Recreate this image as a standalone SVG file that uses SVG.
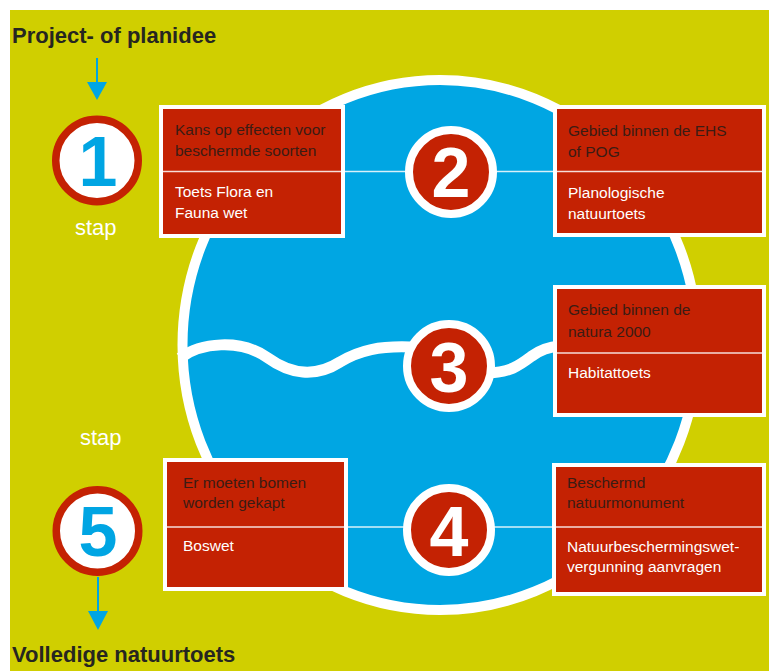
<svg xmlns="http://www.w3.org/2000/svg" width="769" height="671" viewBox="0 0 769 671">
<style>
.title{font-family:"Liberation Sans",Arial,sans-serif;font-weight:bold;font-size:22px;fill:#262620}
.stap{font-family:"Liberation Sans",Arial,sans-serif;font-size:22px;fill:#ffffff}
.box{fill:#c42203;stroke:#ffffff;stroke-width:4}
.dark{font-family:"Liberation Sans",Arial,sans-serif;font-size:15.5px;fill:#3b1c14}
.light{font-family:"Liberation Sans",Arial,sans-serif;font-size:15.5px;fill:#ffffff}
.num{font-family:"Liberation Sans",Arial,sans-serif;font-weight:bold;font-size:70px;text-anchor:middle}
.redc{fill:#c42203;stroke:#ffffff;stroke-width:8}
.whitec{fill:#ffffff;stroke:#c42203;stroke-width:7.5}
.div{stroke:#ffffff;stroke-width:1.5;opacity:0.85}
.arrow{stroke:#00a5e3;stroke-width:2}
</style>
<rect x="0" y="0" width="769" height="671" fill="#ffffff"/>
<rect x="10" y="10" width="759" height="661" fill="#d0cf00"/>
<g id="globe">
<ellipse cx="440" cy="345" rx="257.5" ry="265" fill="#00a6e3" stroke="#ffffff" stroke-width="10"/>
<path d="M 180 358 C 200 343, 240 338, 268 358 C 290 374, 315 378, 340 362 C 360 350, 380 346, 410 347" fill="none" stroke="#ffffff" stroke-width="11"/>
<path d="M 486 373 C 510 373, 520 365, 532 356 C 540 350, 548 347, 560 346" fill="none" stroke="#ffffff" stroke-width="11"/>
</g>
<g id="connectors">
<line class="arrow" x1="97" y1="58" x2="97" y2="84"/>
<polygon points="87,82 107,82 97,100" fill="#00a5e3"/>
<line class="arrow" x1="98" y1="577" x2="98" y2="613"/>
<polygon points="88,611 108,611 98,630" fill="#00a5e3"/>
</g>
<text class="title" x="12" y="43">Project- of planidee</text>
<text class="title" x="12" y="662">Volledige natuurtoets</text>
<g id="box1">
<rect class="box" x="161" y="107" width="182" height="129"/>
<text class="dark" x="175" y="135">Kans op effecten voor</text>
<text class="dark" x="175" y="156">beschermde soorten</text>
<text class="light" x="175" y="197">Toets Flora en</text>
<text class="light" x="175" y="218">Fauna wet</text>
</g>
<g id="box2">
<rect class="box" x="555" y="107" width="209" height="128"/>
<text class="dark" x="568" y="136">Gebied binnen de EHS</text>
<text class="dark" x="568" y="157">of POG</text>
<text class="light" x="568" y="198">Planologische</text>
<text class="light" x="568" y="219">natuurtoets</text>
</g>
<g id="box3">
<rect class="box" x="555" y="287" width="209" height="128"/>
<text class="dark" x="568" y="315">Gebied binnen de</text>
<text class="dark" x="568" y="337">natura 2000</text>
<text class="light" x="568" y="378">Habitattoets</text>
</g>
<g id="box4">
<rect class="box" x="554" y="465" width="210" height="129"/>
<text class="dark" x="567" y="488">Beschermd</text>
<text class="dark" x="567" y="508">natuurmonument</text>
<text class="light" x="567" y="552">Natuurbeschermingswet-</text>
<text class="light" x="567" y="572">vergunning aanvragen</text>
</g>
<g id="box5">
<rect class="box" x="165" y="460" width="181" height="129"/>
<text class="dark" x="183" y="488">Er moeten bomen</text>
<text class="dark" x="183" y="508">worden gekapt</text>
<text class="light" x="183" y="551">Boswet</text>
</g>
<g id="dividers">
<line class="div" x1="161" y1="171.5" x2="766" y2="171.5"/>
<line class="div" x1="555" y1="353" x2="766" y2="353"/>
<line class="div" x1="165" y1="527" x2="766" y2="527"/>
</g>
<g id="step1">
<circle class="whitec" cx="97" cy="160.5" r="41.25"/>
<text class="num" x="98" y="186" fill="#00a5e3">1</text>
<text class="stap" x="75" y="235">stap</text>
</g>
<g id="step2">
<circle class="redc" cx="451" cy="172" r="42"/>
<text class="num" x="451" y="197" fill="#ffffff">2</text>
</g>
<g id="step3">
<circle class="redc" cx="449" cy="366" r="42"/>
<text class="num" x="449" y="392" fill="#ffffff">3</text>
</g>
<g id="step4">
<circle class="redc" cx="449" cy="530" r="42"/>
<text class="num" x="449" y="556" fill="#ffffff">4</text>
</g>
<g id="step5">
<text class="stap" x="80" y="445">stap</text>
<circle class="whitec" cx="97.5" cy="531" r="41.25"/>
<text class="num" x="98" y="556" fill="#00a5e3">5</text>
</g>
</svg>
